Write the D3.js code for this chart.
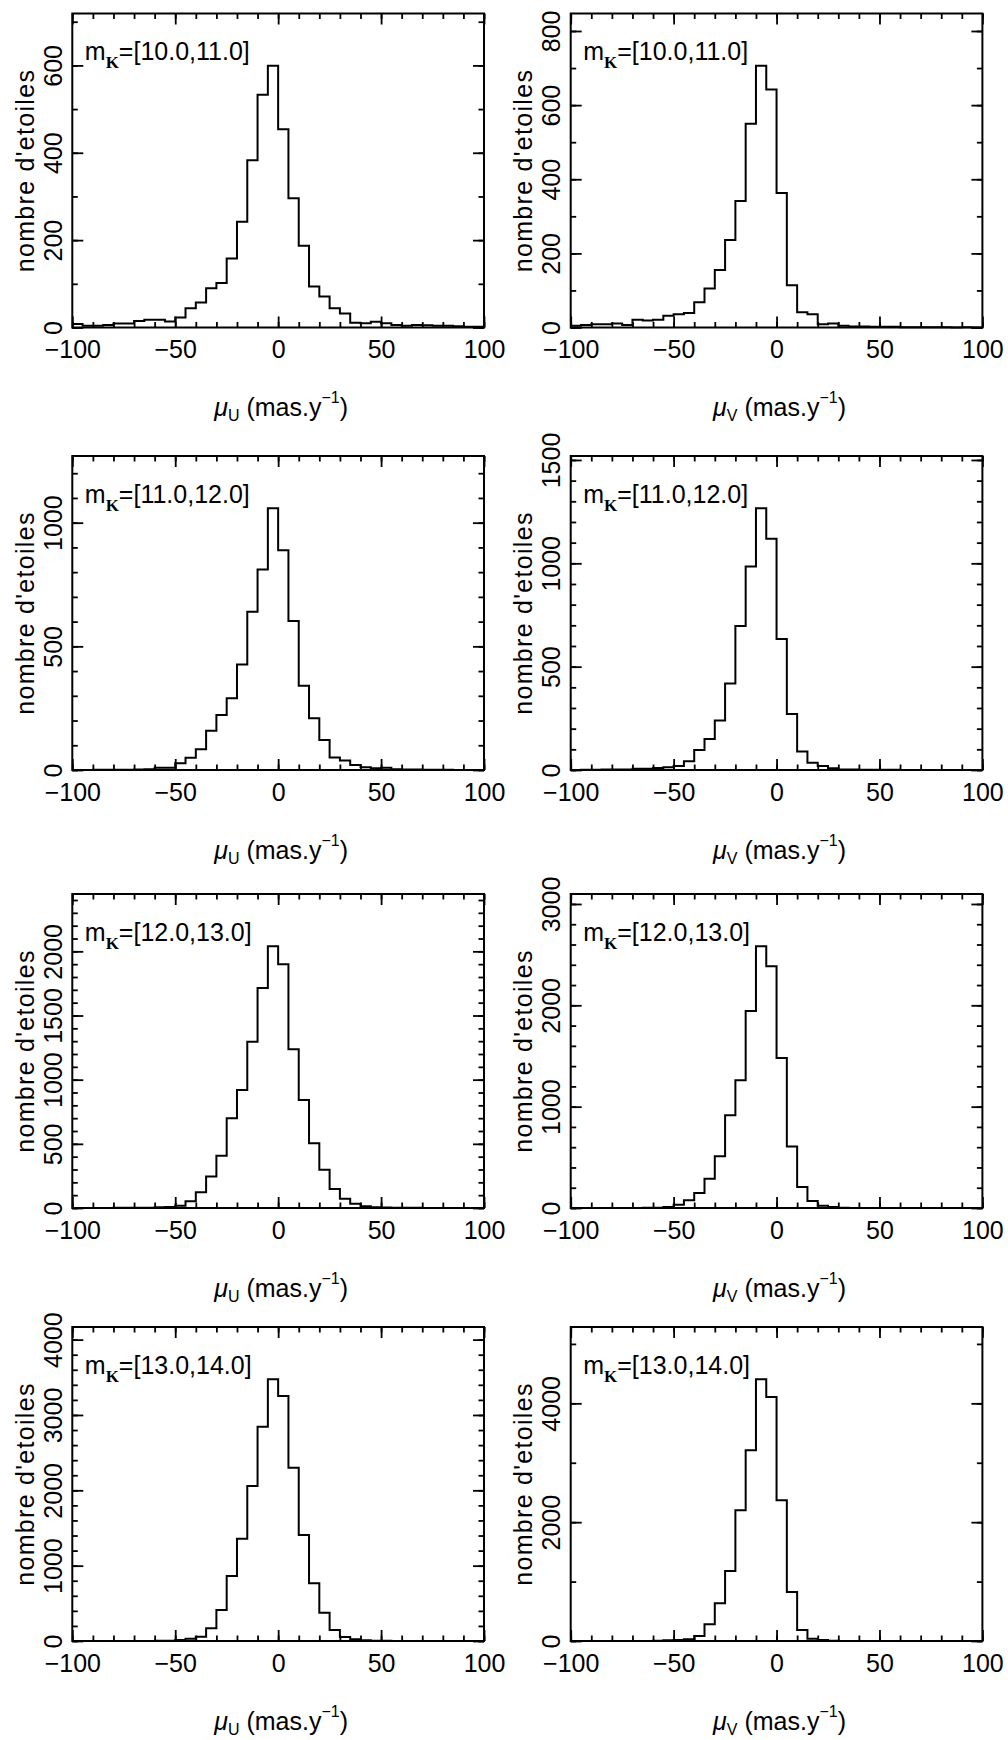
<!DOCTYPE html>
<meta charset="utf-8">
<html>
<head>
	<script src="https://d3js.org/d3.v7.min.js"></script>
	<style>
		body { margin: 0; background: #fff; }
		svg text { font-family: "Liberation Sans", Arial, sans-serif; fill: #000; }
	</style>
</head>
<body>
	<svg id="chart"></svg>
	<script>
		// histogram bins : lower edge of each 5 mas/yr bin, from -100 to 95
		var binEdges = d3.range(-100, 100, 5);
		var xTicks = [-100, -50, 0, 50, 100];
		var xMinorTicks = d3.range(-100, 101, 10);

		var magRanges = ["[10.0,11.0]", "[11.0,12.0]", "[12.0,13.0]", "[13.0,14.0]"];
		var components = ["U", "V"];

		// counts per bin, mu_U
		var countsU10 = [8, 4, 4, 6, 9, 9, 15, 18, 18, 14, 23, 44, 57, 90, 102, 158, 242, 383, 533, 599,
			454, 296, 187, 94, 71, 44, 32, 11, 10, 13, 10, 6, 4, 6, 5, 4, 4, 3, 2, 2];
		var countsU11 = [0, 0, 1, 1, 1, 1, 2, 3, 9, 9, 27, 50, 84, 159, 222, 290, 427, 640, 811, 1058,
			889, 602, 341, 209, 121, 51, 38, 20, 11, 7, 9, 3, 2, 2, 1, 1, 1, 0, 0, 0];
		var countsU12 = [0, 0, 0, 0, 1, 1, 2, 2, 5, 8, 18, 52, 122, 246, 407, 700, 920, 1296, 1715, 2039,
			1899, 1238, 842, 505, 298, 148, 73, 34, 13, 5, 3, 2, 1, 1, 0, 0, 0, 0, 0, 0];
		var countsU13 = [0, 0, 0, 0, 0, 0, 1, 1, 2, 4, 13, 31, 58, 168, 412, 863, 1358, 2058, 2845, 3473,
			3252, 2301, 1407, 766, 376, 146, 53, 22, 9, 3, 2, 1, 1, 0, 0, 0, 0, 0, 0, 0];

		// counts per bin, mu_V
		var countsV10 = [5, 7, 9, 9, 11, 7, 21, 19, 21, 32, 36, 39, 68, 105, 155, 236, 341, 550, 706, 642,
			363, 114, 41, 36, 9, 11, 5, 3, 3, 2, 2, 2, 1, 1, 1, 1, 1, 0, 1, 0];
		var countsV11 = [0, 1, 1, 2, 2, 2, 6, 6, 10, 13, 19, 42, 97, 150, 239, 419, 697, 984, 1266, 1119,
			634, 271, 89, 35, 19, 8, 3, 2, 1, 1, 1, 1, 0, 0, 0, 0, 0, 0, 0, 0];
		var countsV12 = [0, 0, 0, 0, 1, 1, 1, 2, 3, 10, 33, 76, 148, 289, 510, 914, 1260, 1944, 2582, 2385,
			1480, 608, 207, 69, 23, 10, 3, 1, 1, 0, 0, 0, 0, 0, 0, 0, 0, 0, 0, 0];
		var countsV13 = [0, 0, 0, 0, 0, 1, 1, 2, 6, 11, 17, 28, 84, 280, 634, 1178, 2199, 3209, 4404, 4107,
			2367, 825, 185, 39, 17, 6, 2, 1, 1, 0, 0, 0, 0, 0, 0, 0, 0, 0, 0, 0];

		var countsU = [countsU10, countsU11, countsU12, countsU13];
		var countsV = [countsV10, countsV11, countsV12, countsV13];

		// y tick steps (labelled / minor) per row
		var yMajorU = [200, 500, 500, 1000];
		var yMinorU = [100, 100, 100, 200];
		var yMajorV = [200, 500, 1000, 2000];
		var yMinorV = [100, 100, 200, 1000];

		var colLeft = [72.3, 570.7];
		var rowTop = [13.5, 456, 894, 1327];
		var frameW = 411.7, frameH = 314;
		var majorLen = 11, minorLen = 5.5;

		var svg = d3.select("#chart").attr("width", 1008).attr("height", 1740);

		function addTicks(g, axis, pos, len) {
			var a = g.append("g")
				.attr("transform", "translate(" + pos[0] + "," + pos[1] + ")")
				.call(axis.tickSizeInner(-len).tickSizeOuter(0));
			a.select(".domain").remove();
			a.selectAll("line").attr("stroke-width", 1.8);
			a.attr("font-family", null).attr("font-size", 25);
			return a;
		}

		function drawPanel(row, col) {
			var counts = col == 0 ? countsU[row] : countsV[row];
			var major = col == 0 ? yMajorU[row] : yMajorV[row];
			var minor = col == 0 ? yMinorU[row] : yMinorV[row];
			var yMax = d3.max(counts) * 1.2;

			var x = d3.scaleLinear().domain([-100, 100]).range([0, frameW]);
			var y = d3.scaleLinear().domain([0, yMax]).range([frameH, 0]);

			var g = svg.append("g")
				.attr("transform", "translate(" + colLeft[col] + "," + rowTop[row] + ")");

			var yMinorVals = d3.range(0, yMax, minor);
			var yMajorVals = d3.range(0, yMax, major);
			var noLabel = function() { return ""; };

			// minor ticks, all four sides
			addTicks(g, d3.axisBottom(x).tickValues(xMinorTicks).tickFormat(noLabel), [0, frameH], minorLen);
			addTicks(g, d3.axisTop(x).tickValues(xMinorTicks).tickFormat(noLabel), [0, 0], minorLen);
			addTicks(g, d3.axisLeft(y).tickValues(yMinorVals).tickFormat(noLabel), [0, 0], minorLen);
			addTicks(g, d3.axisRight(y).tickValues(yMinorVals).tickFormat(noLabel), [frameW, 0], minorLen);

			// major ticks
			addTicks(g, d3.axisTop(x).tickValues(xTicks).tickFormat(noLabel), [0, 0], majorLen);
			addTicks(g, d3.axisRight(y).tickValues(yMajorVals).tickFormat(noLabel), [frameW, 0], majorLen);
			addTicks(g, d3.axisBottom(x).tickValues(xTicks).tickFormat(d3.format("d")).tickPadding(13), [0, frameH], majorLen);

			var ya = addTicks(g, d3.axisLeft(y).tickValues(yMajorVals).tickFormat(d3.format("d")), [0, 0], majorLen);
			ya.selectAll("text")
				.attr("transform", "rotate(-90)")
				.attr("x", 0)
				.attr("y", -10.5)
				.attr("dy", null)
				.attr("text-anchor", "middle");

			// frame
			g.append("rect")
				.attr("width", frameW)
				.attr("height", frameH)
				.attr("fill", "none")
				.attr("stroke", "#000")
				.attr("stroke-width", 2);

			// histogram as a step line
			var pts = binEdges.map(function(e, i) { return [e, counts[i]]; });
			pts.push([100, counts[counts.length - 1]]);
			var line = d3.line()
				.x(function(d) { return x(d[0]); })
				.y(function(d) { return y(d[1]); })
				.curve(d3.curveStepAfter);
			g.append("path")
				.datum(pts)
				.attr("d", line)
				.attr("fill", "none")
				.attr("stroke", "#000")
				.attr("stroke-width", 2);

			// magnitude range
			var ann = g.append("text")
				.attr("x", 12.5)
				.attr("y", 46.5)
				.attr("font-size", 25);
			ann.append("tspan").text("m");
			ann.append("tspan")
				.attr("dy", 8)
				.attr("font-size", 17)
				.attr("font-weight", "bold")
				.style("font-family", "'Liberation Serif', 'DejaVu Serif', serif")
				.text("K");
			ann.append("tspan").attr("dy", -8).text("=" + magRanges[row]);

			// axis titles
			g.append("text")
				.attr("transform", "translate(-38.5," + (frameH / 2) + ") rotate(-90)")
				.attr("text-anchor", "middle")
				.attr("font-size", 25)
				.attr("letter-spacing", 1.3)
				.text("nombre d'etoiles");

			var xt = g.append("text")
				.attr("x", frameW / 2 + 3)
				.attr("y", frameH + 88.5)
				.attr("text-anchor", "middle")
				.attr("font-size", 25);
			xt.append("tspan").attr("font-style", "italic").text("μ");
			xt.append("tspan").attr("dy", 5).attr("font-size", 16).text(components[col]);
			xt.append("tspan").attr("dy", -5).text(" (mas.y");
			xt.append("tspan").attr("dy", -13).attr("font-size", 16).text("−1");
			xt.append("tspan").attr("dy", 13).text(")");
		}

		for (var r = 0; r < 4; r++) {
			for (var c = 0; c < 2; c++) {
				drawPanel(r, c);
			}
		}
	</script>
</body>
</html>
